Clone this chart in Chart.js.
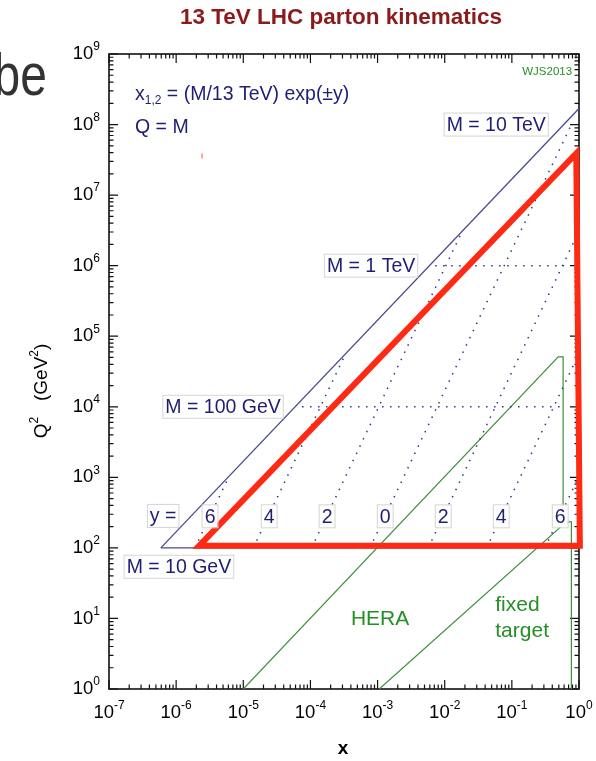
<!DOCTYPE html>
<html>
<head>
<meta charset="utf-8">
<script src="https://cdn.jsdelivr.net/npm/chart.js@4.4.0/dist/chart.umd.min.js"></script>
<style>
  html, body { margin: 0; padding: 0; background: #fff; }
  #kin { display: block; }
</style>
</head>
<body>
<canvas id="kin" width="596" height="761"></canvas>
<script>
// axis decades (log10 of x and of Q^2)
var xExponents = [-7, -6, -5, -4, -3, -2, -1, 0];
var qExponents = [0, 1, 2, 3, 4, 5, 6, 7, 8, 9];

// kinematic limit Q^2 = x s and the M = 10 GeV floor
var envelopeLine = [[5.92e-7, 100], [1, 1.69e8]];
var floorLine = [[5.92e-7, 100], [1, 100]];

// lines of constant rapidity y = -6 ... 6, from M = 10 GeV upwards
var rapidityNames = ['6', '4', '2', '0', '2', '4', '6'];
var rapidityLines = [
    [[1.907e-6, 100], [6.14e-6, 1038]],
    [[1.409e-5, 100], [3.35e-4, 5.67e4]],
    [[1.041e-4, 100], [0.0183, 3.10e6]],
    [[7.69e-4, 100], [0.77, 1e8]],
    [[5.68e-3, 100], [1, 3.10e6]],
    [[0.042, 100], [1, 5.67e4]],
    [[0.310, 100], [1, 1038]]
];

// lines of constant mass
var massLines = [
    [[7.5e-5, 1e4], [0.6, 1e4]],
    [[7.2e-3, 1e6], [0.6, 1e6]]
];

// measured regions
var heraEdge = [[1e-5, 1], [0.49, 5.1e4], [0.58, 5.1e4], [0.58, 234]];
var fixedTargetEdge = [[1.06e-3, 1], [0.647, 234], [0.77, 234], [0.77, 1]];

// red outline drawn over the slide
var redOutline = [[1e-3, 107], [1.03, 107], [0.91, 3.9e7], [2.2e-6, 107], [1e-3, 107]];
var redSpeck = [[2.43e-6, 3.6e7]];

// text anchors, in data coordinates
var massLabels = [
    ['M = 10 TeV', 0.0585, 1e8],
    ['M = 1 TeV', 8.0e-4, 1e6],
    ['M = 100 GeV', 5.0e-6, 1e4],
    ['M = 10 GeV', 1.1e-6, 54],
    ['y =', 6.4e-7, 284]
];
var rapidityLabelX = [3.2e-6, 2.43e-5, 1.77e-4, 1.30e-3, 9.5e-3, 0.0695, 0.526];
var rapidityLabelQ = 280;

var navy = '#1e1e74';
var green = '#239023';
var FONT = '"Liberation Sans", Arial, sans-serif';

function pts(arr) {
    return arr.map(function (p) { return {x: p[0], y: p[1]}; });
}

function lineSet(arr, color, width, dash) {
    return {
        data: pts(arr),
        showLine: true,
        borderColor: color,
        borderWidth: width,
        borderDash: dash || [],
        pointRadius: 0,
        fill: false,
        tension: 0
    };
}

// draw a run of text pieces [text, font, dy]
function drawRuns(ctx, runs, x, y, align) {
    var total = 0;
    runs.forEach(function (r) { ctx.font = r[1]; total += ctx.measureText(r[0]).width; });
    var start = align === 'center' ? x - total / 2 : (align === 'right' ? x - total : x);
    ctx.textAlign = 'left';
    ctx.textBaseline = 'middle';
    runs.forEach(function (r) {
        ctx.font = r[1];
        ctx.fillText(r[0], start, y + (r[2] || 0));
        start += ctx.measureText(r[0]).width;
    });
    return total;
}

function boxedText(ctx, text, x, y, size) {
    ctx.font = size + 'px ' + FONT;
    var w = ctx.measureText(text).width;
    ctx.fillStyle = '#fff';
    ctx.strokeStyle = '#d4d4d4';
    ctx.lineWidth = 1;
    ctx.fillRect(x - w / 2 - 2, y - 11, w + 4, 22);
    ctx.strokeRect(x - w / 2 - 2.5, y - 11.5, w + 5, 23);
    ctx.fillStyle = navy;
    ctx.textAlign = 'center';
    ctx.textBaseline = 'middle';
    ctx.fillText(text, x, y + 1);
}

var framePlugin = {
    id: 'frame',
    beforeDatasetsDraw: function (chart) {
        var ctx = chart.ctx, a = chart.chartArea;
        var xs = chart.scales.x, ys = chart.scales.y;
        ctx.save();

        // leftover slide text
        ctx.save();
        ctx.fillStyle = '#333';
        ctx.font = '60px ' + FONT;
        ctx.textAlign = 'right';
        ctx.textBaseline = 'alphabetic';
        ctx.translate(47, 95);
        ctx.scale(0.8, 1);
        ctx.fillText('be', 0, 0);
        ctx.restore();

        // title
        ctx.fillStyle = '#8b1a1a';
        ctx.font = 'bold 22.5px ' + FONT;
        ctx.textAlign = 'center';
        ctx.textBaseline = 'middle';
        ctx.fillText('13 TeV LHC parton kinematics', (a.left + a.right) / 2 - 3, 18);

        // frame and inner ticks
        ctx.strokeStyle = '#111';
        ctx.lineWidth = 1.6;
        ctx.strokeRect(a.left, a.top, a.right - a.left, a.bottom - a.top);
        ctx.lineWidth = 1.2;
        ctx.beginPath();
        xExponents.forEach(function (e) {
            for (var m = 1; m <= 9; m++) {
                var v = m * Math.pow(10, e);
                if (v > xs.max * 1.0001) break;
                var p = xs.getPixelForValue(v), len = m === 1 ? 9 : 4.5;
                ctx.moveTo(p, a.bottom); ctx.lineTo(p, a.bottom - len);
                ctx.moveTo(p, a.top); ctx.lineTo(p, a.top + len);
            }
        });
        qExponents.forEach(function (e) {
            for (var m = 1; m <= 9; m++) {
                var v = m * Math.pow(10, e);
                if (v > ys.max * 1.0001) break;
                var p = ys.getPixelForValue(v), len = m === 1 ? 9 : 4.5;
                ctx.moveTo(a.left, p); ctx.lineTo(a.left + len, p);
                ctx.moveTo(a.right, p); ctx.lineTo(a.right - len, p);
            }
        });
        ctx.stroke();

        // tick labels 10^n
        ctx.fillStyle = '#000';
        var big = '18.5px ' + FONT, small = '12px ' + FONT;
        xExponents.forEach(function (e) {
            var p = xs.getPixelForValue(Math.pow(10, e));
            drawRuns(ctx, [['10', big, 0], [String(e), small, -7]], p, a.bottom + 24, 'center');
        });
        qExponents.forEach(function (e) {
            var p = ys.getPixelForValue(Math.pow(10, e));
            drawRuns(ctx, [['10', big, 0], [String(e), small, -7]], a.left - 9, p, 'right');
        });

        // axis titles
        ctx.font = 'bold 19px ' + FONT;
        ctx.textAlign = 'center';
        ctx.textBaseline = 'middle';
        ctx.fillText('x', (a.left + a.right) / 2 - 1, 749);

        ctx.save();
        ctx.translate(42, 391);
        ctx.rotate(-Math.PI / 2);
        var f = '19px ' + FONT, fs = '12px ' + FONT;
        drawRuns(ctx, [['Q', f, 0], ['2', fs, -7], ['   (GeV', f, 0], ['2', fs, -7], [')', f, 0]], 0, 0, 'center');
        ctx.restore();

        ctx.restore();
    },
    afterDatasetsDraw: function (chart) {
        var ctx = chart.ctx;
        var xs = chart.scales.x, ys = chart.scales.y;
        ctx.save();

        massLabels.forEach(function (l) {
            boxedText(ctx, l[0], xs.getPixelForValue(l[1]), ys.getPixelForValue(l[2]), 19.5);
        });
        rapidityNames.forEach(function (n, i) {
            boxedText(ctx, n, xs.getPixelForValue(rapidityLabelX[i]), ys.getPixelForValue(rapidityLabelQ), 19.5);
        });

        ctx.fillStyle = navy;
        var f = '19.5px ' + FONT;
        drawRuns(ctx, [['x', f, 0], ['1,2', '12px ' + FONT, 6], [' = (M/13 TeV) exp(\u00b1y)', f, 0]],
            xs.getPixelForValue(2.44e-7), ys.getPixelForValue(2.67e8), 'left');
        drawRuns(ctx, [['Q = M', f, 0]], xs.getPixelForValue(2.44e-7), ys.getPixelForValue(9.1e7), 'left');

        ctx.fillStyle = green;
        drawRuns(ctx, [['WJS2013', '11.5px ' + FONT, 0]], xs.getPixelForValue(0.79), ys.getPixelForValue(5.5e8), 'right');
        var g = '21px ' + FONT;
        drawRuns(ctx, [['HERA', g, 0]], xs.getPixelForValue(1.09e-3), ys.getPixelForValue(9.8), 'center');
        drawRuns(ctx, [['fixed', g, 0]], xs.getPixelForValue(0.0566), ys.getPixelForValue(15.6), 'left');
        drawRuns(ctx, [['target', g, 0]], xs.getPixelForValue(0.0566), ys.getPixelForValue(6.65), 'left');

        ctx.restore();
    }
};

var datasets = [];
var red = lineSet(redOutline, '#ff2a14', 6);
red.borderJoinStyle = 'miter';
red.clip = false;
datasets.push(red);
datasets.push({
    data: pts(redSpeck), showLine: false, pointStyle: 'line', rotation: 90,
    pointRadius: 2.5, borderColor: '#ff5040', borderWidth: 1
});
datasets.push(lineSet(envelopeLine, '#4a4a8e', 1.3));
datasets.push(lineSet(floorLine, '#4a4a8e', 1.3));
rapidityLines.forEach(function (l) { datasets.push(lineSet(l, '#33338a', 1.5, [1.5, 6.5])); });
massLines.forEach(function (l) { datasets.push(lineSet(l, '#33338a', 1.5, [1.5, 6.5])); });
datasets.push(lineSet(heraEdge, '#3f8f3f', 1.2));
datasets.push(lineSet(fixedTargetEdge, '#3f8f3f', 1.2));

new Chart(document.getElementById('kin'), {
    type: 'scatter',
    data: {datasets: datasets},
    options: {
        responsive: false,
        animation: false,
        layout: {padding: {left: 109, right: 17, top: 54, bottom: 72}},
        plugins: {legend: {display: false}, tooltip: {enabled: false}, title: {display: false}},
        scales: {
            x: {type: 'logarithmic', min: 1e-7, max: 1, display: false},
            y: {type: 'logarithmic', min: 1, max: 1e9, display: false}
        }
    },
    plugins: [framePlugin]
});
</script>
</body>
</html>
